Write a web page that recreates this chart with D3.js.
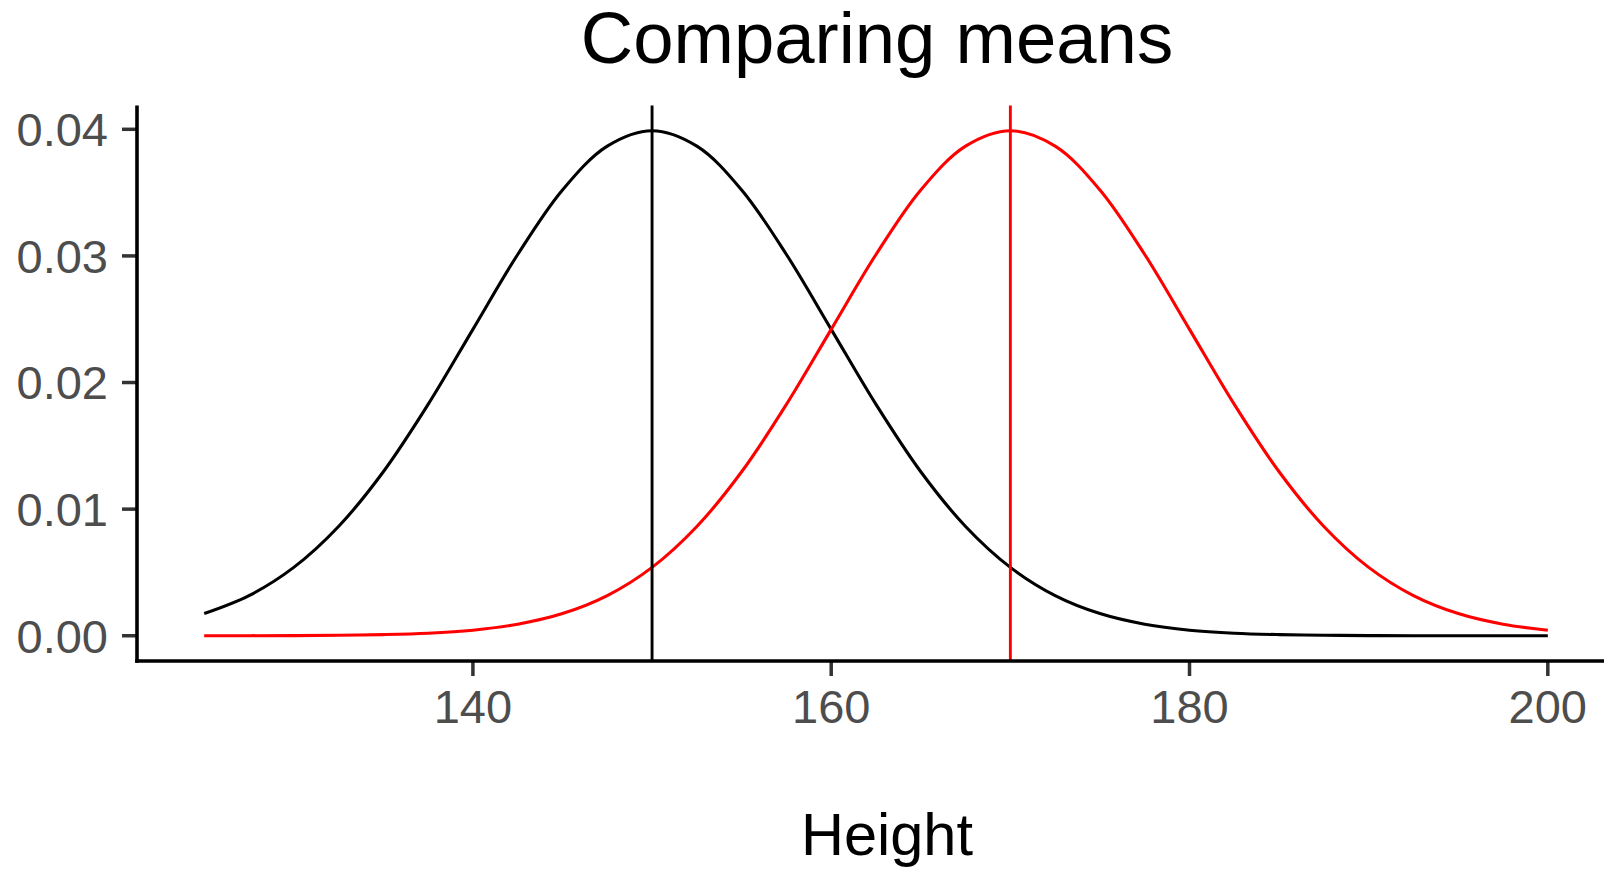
<!DOCTYPE html>
<html lang="en">
<head>
  <meta charset="UTF-8">
  <title>Comparing means</title>
  <style>
    body { margin: 0; background: #fff; font-family: "Liberation Sans", Arial, sans-serif; }
    .curve { fill: none; stroke-width: 3.1px; stroke-linejoin: round; }
    .vline { stroke-width: 2.9px; }
    .tick-label { fill: #4d4d4d; font-size: 47px; }
    .tick-mark { stroke: #333; stroke-width: 3.5px; }
    .axis-line { stroke: #000; stroke-width: 3.6px; }
  </style>
</head>
<body>
  <div id="chart"></div>

  <script src="https://d3js.org/d3.v7.min.js"></script>
  <script>
    // Heights, read every 2.5 units along the x axis
    const heights = [125, 127.5, 130, 132.5, 135, 137.5, 140, 142.5, 145, 147.5,
                     150, 152.5, 155, 157.5, 160, 162.5, 165, 167.5, 170, 172.5,
                     175, 177.5, 180, 182.5, 185, 187.5, 190, 192.5, 195, 197.5, 200];

    // Black curve (centred on 150)
    const densityA = [0.00175, 0.00317, 0.00540, 0.00863, 0.01295, 0.01827, 0.02420, 0.03011, 0.03521, 0.03867,
                      0.03989, 0.03867, 0.03521, 0.03011, 0.02420, 0.01827, 0.01295, 0.00863, 0.00540, 0.00317,
                      0.00175, 0.00091, 0.00044, 0.00020, 0.00009, 0.00004, 0.00001, 0.000005, 0.000002, 0, 0];

    // Red curve (centred on 170)
    const densityB = [0.000002, 0.000005, 0.00001, 0.00004, 0.00009, 0.00020, 0.00044, 0.00091, 0.00175, 0.00317,
                      0.00540, 0.00863, 0.01295, 0.01827, 0.02420, 0.03011, 0.03521, 0.03867, 0.03989, 0.03867,
                      0.03521, 0.03011, 0.02420, 0.01827, 0.01295, 0.00863, 0.00540, 0.00317, 0.00175, 0.00091, 0.00044];

    // Mean lines
    const means = [150, 170];
    const meanColors = ["#000000", "#ff0000"];

    const xTicks = [140, 160, 180, 200];
    const yTicks = [0, 0.01, 0.02, 0.03, 0.04];

    const width = 1604;
    const height = 872;

    const svg = d3.select("#chart")
      .append("svg")
      .attr("width", width)
      .attr("height", height);

    // Panel edges (ggplot-style 5% expansion around the data)
    const panelLeft = 137, panelRight = 1615, panelTop = 105.4, panelBottom = 661;

    const x = d3.scaleLinear().domain([121.25, 203.75]).range([panelLeft, panelRight]);
    const y = d3.scaleLinear().domain([-0.0019947, 0.041888]).range([panelBottom, panelTop]);

    const line = d3.line()
      .x(d => x(d[0]))
      .y(d => y(d[1]))
      .curve(d3.curveCatmullRom.alpha(0.5));

    // Curves
    svg.append("path")
      .datum(heights.map((h, i) => [h, densityA[i]]))
      .attr("class", "curve")
      .attr("stroke", "#000")
      .attr("d", line);

    svg.append("path")
      .datum(heights.map((h, i) => [h, densityB[i]]))
      .attr("class", "curve")
      .attr("stroke", "#ff0000")
      .attr("d", line);

    // Vertical lines at the means
    svg.append("g")
      .selectAll("line")
      .data(means)
      .join("line")
      .attr("class", "vline")
      .attr("stroke", (d, i) => meanColors[i])
      .attr("x1", d => x(d))
      .attr("x2", d => x(d))
      .attr("y1", panelTop)
      .attr("y2", panelBottom);

    // Y axis ticks and labels
    const yAxis = svg.append("g");
    yAxis.selectAll("line")
      .data(yTicks)
      .join("line")
      .attr("class", "tick-mark")
      .attr("x1", panelLeft - 15)
      .attr("x2", panelLeft)
      .attr("y1", d => y(d))
      .attr("y2", d => y(d));
    yAxis.selectAll("text")
      .data(yTicks)
      .join("text")
      .attr("class", "tick-label")
      .attr("x", 108)
      .attr("y", d => y(d) + 16.8)
      .attr("text-anchor", "end")
      .text(d => d3.format(".2f")(d));

    // X axis ticks and labels
    const xAxis = svg.append("g");
    xAxis.selectAll("line")
      .data(xTicks)
      .join("line")
      .attr("class", "tick-mark")
      .attr("x1", d => x(d))
      .attr("x2", d => x(d))
      .attr("y1", panelBottom)
      .attr("y2", panelBottom + 15);
    xAxis.selectAll("text")
      .data(xTicks)
      .join("text")
      .attr("class", "tick-label")
      .attr("x", d => x(d))
      .attr("y", 723)
      .attr("text-anchor", "middle")
      .text(d => d);

    // Axis lines
    svg.append("line")
      .attr("class", "axis-line")
      .attr("x1", panelLeft).attr("x2", panelLeft)
      .attr("y1", panelTop).attr("y2", panelBottom + 1.8);
    svg.append("line")
      .attr("class", "axis-line")
      .attr("x1", panelLeft - 1.8).attr("x2", panelRight)
      .attr("y1", panelBottom).attr("y2", panelBottom);

    // Titles
    svg.append("text")
      .attr("x", 877)
      .attr("y", 63)
      .attr("text-anchor", "middle")
      .style("font-size", "72.5px")
      .text("Comparing means");

    svg.append("text")
      .attr("x", 887)
      .attr("y", 855)
      .attr("text-anchor", "middle")
      .style("font-size", "59.5px")
      .text("Height");
  </script>
</body>
</html>
